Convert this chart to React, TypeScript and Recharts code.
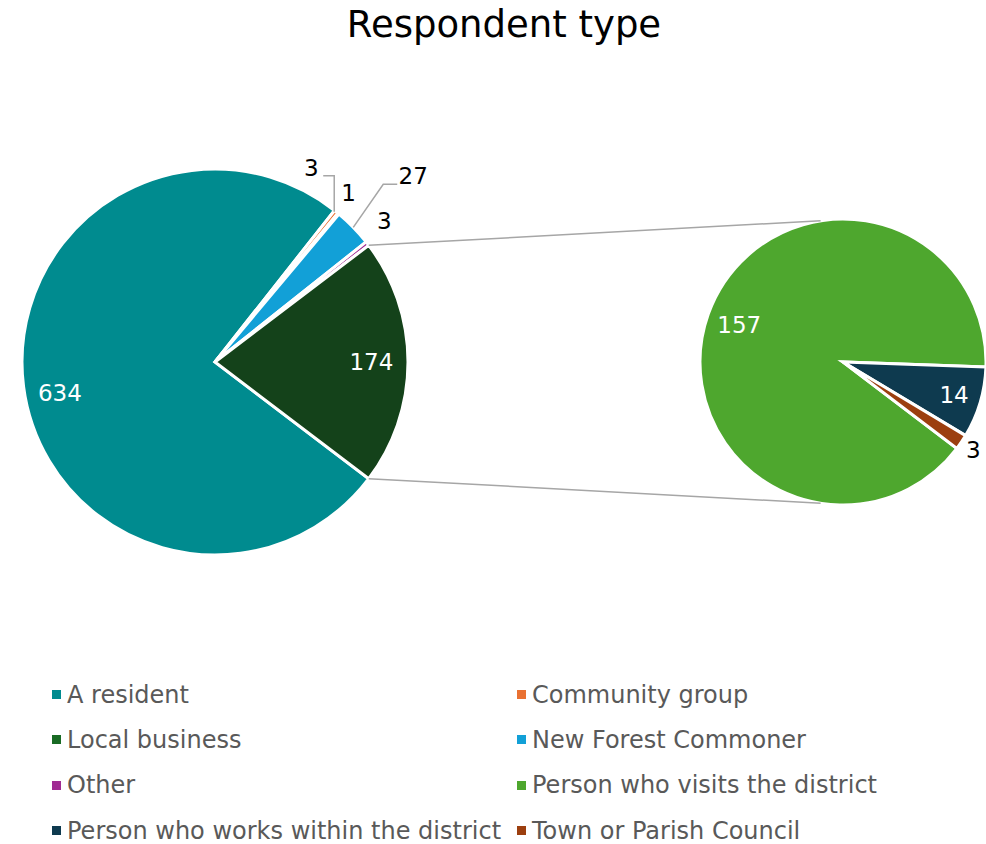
import { PieChart, Pie, Cell, Legend } from "recharts";

// main pie: residents etc, last slice is the combined one split out on the right
const mainNames = ["A resident", "Community group", "Local business", "New Forest Commoner", "Other", "Combined"];
const mainValues = [634, 3, 1, 27, 3, 174];

// second pie: what the combined slice is made of
const subNames = ["Person who visits the district", "Person who works within the district", "Town or Parish Council"];
const subValues = [157, 14, 3];

const legendNames = [
  "A resident",
  "Community group",
  "Local business",
  "New Forest Commoner",
  "Other",
  "Person who visits the district",
  "Person who works within the district",
  "Town or Parish Council",
];

const mainColors = ["#008B8F", "#E97132", "#196B24", "#12A0D7", "#A02B93", "#14421A"];
const subColors = ["#4EA72E", "#0E3A4F", "#9C3F0F"];
const legendColors = ["#008B8F", "#E97132", "#196B24", "#12A0D7", "#A02B93", "#4EA72E", "#0E3A4F", "#9C3F0F"];

const FONT = "'DejaVu Sans', Verdana, sans-serif";
const RAD = Math.PI / 180;
const MAIN = { cx: 215, cy: 362, r: 193 };
const SUB = { cx: 843, cy: 362, r: 143 };
const LEADER = "#A6A6A6";

const mainData = mainNames.map((name, i) => ({ name, value: mainValues[i] }));
const subData = subNames.map((name, i) => ({ name, value: subValues[i] }));

const at = (cx: number, cy: number, r: number, a: number) => ({
  x: cx + r * Math.cos(-a * RAD),
  y: cy + r * Math.sin(-a * RAD),
});

// text offsets from the slice edge for the thin slices
const outerOffsets: Record<number, [number, number]> = {
  1: [-25, -44],
  2: [10, -21],
  3: [60, -51],
  4: [17, -23],
};

function mainLabel(p: any) {
  const { cx, cy, outerRadius, midAngle, index, value, startAngle, endAngle } = p;
  if (index === 0 || index === 5) {
    const pt = at(cx, cy, outerRadius * 0.81, midAngle);
    const dy = index === 0 ? 11 : 0;
    return (
      <g>
        {index === 5 && (
          <>
            <line
              x1={at(cx, cy, outerRadius, startAngle).x}
              y1={at(cx, cy, outerRadius, startAngle).y}
              x2={at(SUB.cx, SUB.cy, SUB.r, 99).x}
              y2={at(SUB.cx, SUB.cy, SUB.r, 99).y}
              stroke={LEADER}
              strokeWidth={1.5}
            />
            <line
              x1={at(cx, cy, outerRadius, endAngle).x}
              y1={at(cx, cy, outerRadius, endAngle).y}
              x2={at(SUB.cx, SUB.cy, SUB.r, -99).x}
              y2={at(SUB.cx, SUB.cy, SUB.r, -99).y}
              stroke={LEADER}
              strokeWidth={1.5}
            />
          </>
        )}
        <text x={pt.x} y={pt.y + dy} fill="#fff" fontSize={23} fontFamily={FONT} textAnchor="middle" dominantBaseline="central">
          {value}
        </text>
      </g>
    );
  }
  const e = at(cx, cy, outerRadius, midAngle);
  const [ox, oy] = outerOffsets[index];
  let leader: string | null = null;
  if (index === 1) leader = `${e.x - 2},${e.y} ${e.x - 2},${e.y - 36} ${e.x - 13},${e.y - 36}`;
  if (index === 3) leader = `${e.x},${e.y} ${e.x + 30},${e.y - 43} ${e.x + 44},${e.y - 43}`;
  return (
    <g>
      {leader && <polyline points={leader} fill="none" stroke={LEADER} strokeWidth={1.5} />}
      <text x={e.x + ox} y={e.y + oy} fill="#000" fontSize={23} fontFamily={FONT} textAnchor="middle" dominantBaseline="central">
        {value}
      </text>
    </g>
  );
}

function subLabel(p: any) {
  const { cx, cy, outerRadius, midAngle, index, value } = p;
  const k = index === 0 ? 0.77 : index === 1 ? 0.81 : 1.1;
  const pt = at(cx, cy, outerRadius * k, midAngle);
  return (
    <text x={pt.x} y={pt.y} fill={index === 2 ? "#000" : "#fff"} fontSize={23} fontFamily={FONT} textAnchor="middle" dominantBaseline="central">
      {value}
    </text>
  );
}

function LegendBox() {
  return (
    <div style={{ position: "relative", width: 986, height: 182 }}>
      {legendNames.map((n, i) => (
        <div
          key={n}
          style={{
            position: "absolute",
            left: i % 2 === 0 ? 52 : 517,
            top: Math.floor(i / 2) * 45.3,
            height: 45.3,
            display: "flex",
            alignItems: "center",
            whiteSpace: "nowrap",
            fontFamily: FONT,
            fontSize: 24,
            color: "#595959",
          }}
        >
          <span style={{ width: 9, height: 9, background: legendColors[i], marginRight: 6, display: "inline-block" }} />
          {n}
        </div>
      ))}
    </div>
  );
}

export default function App() {
  return (
    <div style={{ position: "absolute", left: 0, top: 0, width: 986, height: 844, background: "#fff" }}>
      <div
        style={{
          position: "absolute",
          left: 11,
          top: 0,
          width: 986,
          height: 50,
          lineHeight: "50px",
          textAlign: "center",
          fontFamily: FONT,
          fontSize: 37,
          color: "#000",
        }}
      >
        Respondent type
      </div>
      <PieChart width={986} height={844} margin={{ top: 0, right: 0, bottom: 0, left: 0 }}>
        <Pie
          data={mainData}
          dataKey="value"
          cx={MAIN.cx}
          cy={MAIN.cy}
          outerRadius={MAIN.r}
          startAngle={-37.2}
          endAngle={-397.2}
          stroke="#fff"
          strokeWidth={3}
          label={mainLabel}
          labelLine={false}
          isAnimationActive={false}
        >
          {mainData.map((d, i) => (
            <Cell key={d.name} fill={mainColors[i]} />
          ))}
        </Pie>
        <Pie
          data={subData}
          dataKey="value"
          cx={SUB.cx}
          cy={SUB.cy}
          outerRadius={SUB.r}
          startAngle={-37.2}
          endAngle={-397.2}
          stroke="#fff"
          strokeWidth={3}
          label={subLabel}
          labelLine={false}
          isAnimationActive={false}
        >
          {subData.map((d, i) => (
            <Cell key={d.name} fill={subColors[i]} />
          ))}
        </Pie>
        <Legend content={() => <LegendBox />} wrapperStyle={{ left: 0, top: 672, width: 986, bottom: "auto" }} />
      </PieChart>
    </div>
  );
}
